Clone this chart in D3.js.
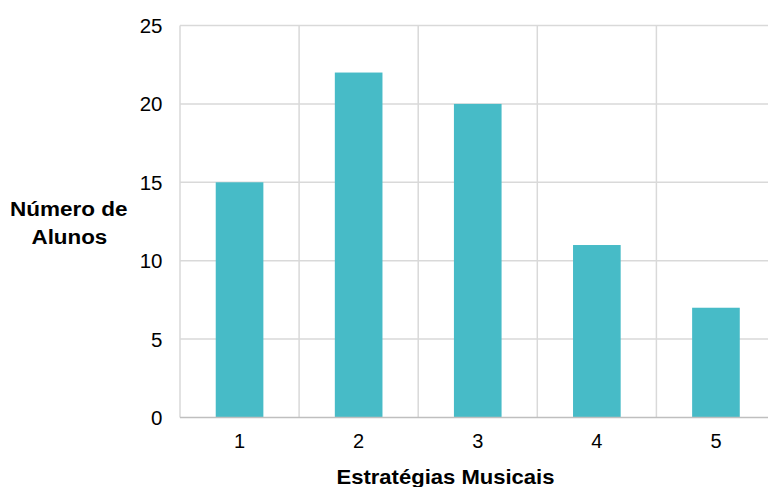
<!DOCTYPE html>
<html><head><meta charset="utf-8">
<script src="https://cdn.jsdelivr.net/npm/d3@7"></script>
<style>body{margin:0;background:#fff}svg{display:block}text{font-family:"Liberation Sans",Arial,sans-serif}</style>
</head><body>
<script>
const categories = ["1","2","3","4","5"];
const values = [15,22,20,11,7];
const yTicks = [0,5,10,15,20,25];

(function(){
const W=768,H=487;
const svg=d3.select("body").append("svg").attr("width",W).attr("height",H);
const mLeft=180,mRight=775.5,mTop=25.5,mBottom=417.5;
const x=d3.scaleBand().domain(categories).range([mLeft,mRight]).paddingInner(0).paddingOuter(0);
const y=d3.scaleLinear().domain([0,25]).range([mBottom,mTop]);

svg.append("g").selectAll("line").data(yTicks.filter(d=>d>0)).join("line")
 .attr("x1",mLeft).attr("x2",mRight).attr("y1",d=>y(d)).attr("y2",d=>y(d))
 .attr("stroke","#d9d9d9").attr("stroke-width",1.5);
svg.append("g").selectAll("line").data(categories).join("line")
 .attr("x1",d=>x(d)).attr("x2",d=>x(d)).attr("y1",mTop).attr("y2",mBottom)
 .attr("stroke","#d9d9d9").attr("stroke-width",1.5);

const bw=x.bandwidth()*0.4;
svg.append("g").selectAll("rect").data(values).join("rect")
 .attr("x",(d,i)=>x(categories[i])+x.bandwidth()/2-bw/2)
 .attr("width",bw)
 .attr("y",d=>y(d)).attr("height",d=>mBottom-y(d))
 .attr("fill","#47bbc7");

svg.append("line").attr("x1",mLeft).attr("x2",mRight).attr("y1",mBottom).attr("y2",mBottom)
 .attr("stroke","#bfbfbf").attr("stroke-width",1.5);

const ya=svg.append("g").attr("transform",`translate(162.5,0.5)`)
 .call(d3.axisLeft(y).tickValues(yTicks).tickSize(0).tickPadding(0));
ya.select(".domain").remove();
ya.selectAll("text").attr("font-size",20.5).attr("fill","#000").attr("font-family","Liberation Sans, Arial, sans-serif");

const xa=svg.append("g").attr("transform",`translate(0,${mBottom+16})`)
 .call(d3.axisBottom(x).tickSize(0).tickPadding(0));
xa.select(".domain").remove();
xa.selectAll("text").attr("font-size",20).attr("fill","#000").attr("font-family","Liberation Sans, Arial, sans-serif");

svg.append("text").attr("x",336.5).attr("y",484)
 .attr("font-size",20.5).attr("font-weight","bold")
 .attr("textLength",218).attr("lengthAdjust","spacingAndGlyphs").text("Estratégias Musicais");
svg.append("text").attr("x",10).attr("y",216).attr("font-size",20).attr("font-weight","bold")
 .attr("textLength",117.5).attr("lengthAdjust","spacingAndGlyphs").text("Número de");
svg.append("text").attr("x",31.5).attr("y",244.3).attr("font-size",20).attr("font-weight","bold")
 .attr("textLength",75.8).attr("lengthAdjust","spacingAndGlyphs").text("Alunos");
})();
</script>
</body></html>
